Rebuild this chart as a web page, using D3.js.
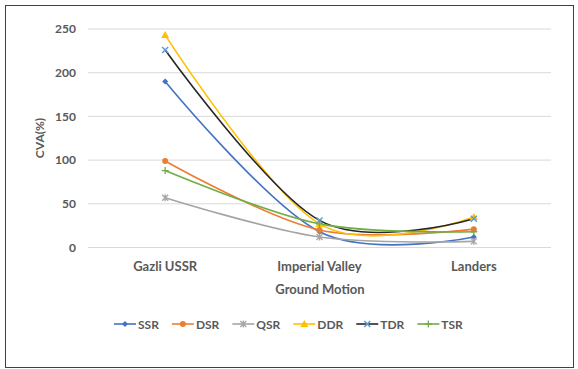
<!DOCTYPE html>
<html><head><meta charset="utf-8">
<script src="https://cdn.jsdelivr.net/npm/d3@7/dist/d3.min.js"></script>
<style>body{margin:0;background:#fff}svg{display:block}text{font-family:Lato,"Open Sans",sans-serif;font-weight:bold;fill:#595959}</style>
</head><body><svg id="c" width="578" height="369"></svg>
<script>
const categories = ["Gazli USSR", "Imperial Valley", "Landers"];
const seriesNames = ["SSR", "DSR", "QSR", "DDR", "TDR", "TSR"];
const SSR = [190, 18, 12];
const DSR = [99, 20, 21];
const QSR = [57, 12, 7];
const DDR = [243, 27, 35];
const TDR = [226, 31, 33];
const TSR = [88, 27, 18];
const yTicks = [0, 50, 100, 150, 200, 250];
const lineColors = ["#4472C4", "#ED7D31", "#A5A5A5", "#FFC000", "#262626", "#70AD47"];
const markerColors = ["#4472C4", "#ED7D31", "#A5A5A5", "#FFC000", "#5B9BD5", "#70AD47"];
const markers = ["diamond", "circle", "star", "triangle", "x", "plus"];
const data = [SSR, DSR, QSR, DDR, TDR, TSR];

const svg = d3.select("#c");
svg.append("rect").attr("x",5.5).attr("y",5.5).attr("width",568).attr("height",362).attr("fill","#fff").attr("stroke","#404040").attr("stroke-width",1);

const x = d3.scaleBand().domain(categories).range([88, 551]);
const y = d3.scaleLinear().domain([0, 250]).range([247.5, 29]);

const grid = svg.append("g");
yTicks.forEach(t => {
  grid.append("line").attr("x1",88).attr("x2",551).attr("y1",y(t)).attr("y2",y(t)).attr("stroke","#D9D9D9").attr("stroke-width",1);
});
const yAxis = svg.append("g").attr("transform","translate(88,0)").call(d3.axisLeft(y).tickValues(yTicks).tickSize(0).tickPadding(12));
yAxis.select(".domain").remove();
yAxis.selectAll("text").attr("font-size","12px").style("font-family","Lato").style("font-weight","bold").attr("fill","#595959");

const xAxis = svg.append("g").attr("transform","translate(0,247.5)").call(d3.axisBottom(x).tickSize(0).tickPadding(14));
xAxis.select(".domain").remove();
xAxis.selectAll("text").attr("font-size","13px").style("font-family","Lato").style("font-weight","bold").attr("fill","#595959");

svg.append("text").attr("x",320).attr("y",294).attr("text-anchor","middle").attr("font-size","13px").text("Ground Motion");
svg.append("text").attr("transform","translate(44,138) rotate(-90)").attr("text-anchor","middle").attr("font-size","12px").text("CVA(%)");

const line = d3.line().x((d,i)=>x(categories[i])+x.bandwidth()/2).y(d=>y(d)).curve(d3.curveCardinal.tension(0));

function drawMarker(g, type, cx, cy, color) {
  const s = 3;
  if (type==="diamond") g.append("path").attr("d",`M${cx},${cy-s}L${cx+s},${cy}L${cx},${cy+s}L${cx-s},${cy}Z`).attr("fill",color);
  else if (type==="circle") g.append("circle").attr("cx",cx).attr("cy",cy).attr("r",3).attr("fill",color);
  else if (type==="triangle") g.append("path").attr("d",`M${cx},${cy-4}L${cx+4},${cy+3}L${cx-4},${cy+3}Z`).attr("fill",color);
  else if (type==="x") g.append("path").attr("d",`M${cx-3},${cy-3}L${cx+3},${cy+3}M${cx+3},${cy-3}L${cx-3},${cy+3}`).attr("stroke",color).attr("stroke-width",1.5);
  else if (type==="plus") g.append("path").attr("d",`M${cx-3.5},${cy}L${cx+3.5},${cy}M${cx},${cy-3.5}L${cx},${cy+3.5}`).attr("stroke",color).attr("stroke-width",1.3);
  else if (type==="star") g.append("path").attr("d",`M${cx-3},${cy-3}L${cx+3},${cy+3}M${cx+3},${cy-3}L${cx-3},${cy+3}M${cx},${cy-3.5}L${cx},${cy+3.5}`).attr("stroke",color).attr("stroke-width",1.3);
}

const plot = svg.append("g");
data.forEach((vals, si) => {
  plot.append("path").attr("d", line(vals)).attr("fill","none").attr("stroke",lineColors[si]).attr("stroke-width",1.6);
});
data.forEach((vals, si) => {
  vals.forEach((v,i)=> drawMarker(plot, markers[si], x(categories[i])+x.bandwidth()/2, y(v), markerColors[si]));
});

// legend
const lg = svg.append("g");
let lx = 114; const ly = 324;
seriesNames.forEach((n, si) => {
  lg.append("line").attr("x1",lx).attr("x2",lx+22).attr("y1",ly).attr("y2",ly).attr("stroke",lineColors[si]).attr("stroke-width",1.6);
  drawMarker(lg, markers[si], lx+11, ly, markerColors[si]);
  const t = lg.append("text").attr("x",lx+24).attr("y",ly+4.5).attr("font-size","12px").text(n);
  lx += 24 + t.node().getComputedTextLength() + 13;
});
</script></body></html>
